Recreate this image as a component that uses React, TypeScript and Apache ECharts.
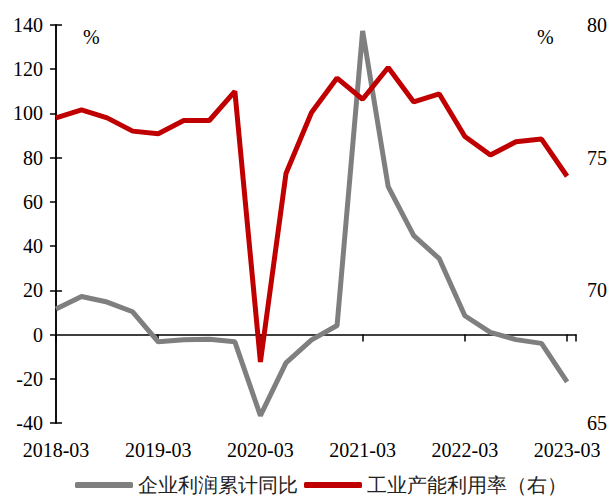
import React, { useEffect, useRef } from "react";
import * as echarts from "echarts";

const categories = [
  "2018-03", "2018-06", "2018-09", "2018-12",
  "2019-03", "2019-06", "2019-09", "2019-12",
  "2020-03", "2020-06", "2020-09", "2020-12",
  "2021-03", "2021-06", "2021-09", "2021-12",
  "2022-03", "2022-06", "2022-09", "2022-12",
  "2023-03",
];
const profitYoY = [
  11.6, 17.2, 14.7, 10.3,
  -3.3, -2.4, -2.1, -3.3,
  -36.7, -12.8, -2.4, 4.1,
  137.3, 66.9, 44.7, 34.3,
  8.5, 1.0, -2.3, -4.0,
  -21.4,
];
const capacityUtil = [
  76.5, 76.8, 76.5, 76.0,
  75.9, 76.4, 76.4, 77.5,
  67.3, 74.4, 76.7, 78.0,
  77.2, 78.4, 77.1, 77.4,
  75.8, 75.1, 75.6, 75.7,
  74.3,
];
const seriesNames = ["企业利润累计同比", "工业产能利用率（右）"];

const SERIF = "Times New Roman";

export default function App() {
  const ref = useRef<HTMLDivElement>(null);
  useEffect(() => {
    if (!ref.current) return;
    const chart = echarts.init(ref.current, null, { renderer: "svg" });
    const xMax = 20.35;
    const labelFmt = (v: number) => {
      const r = Math.round(v);
      if (Math.abs(v - r) > 1e-6) return "";
      return categories[r] ?? "";
    };
    chart.setOption({
      animation: false,
      backgroundColor: "#fff",
      textStyle: { fontFamily: SERIF },
      grid: { left: 56, right: 36, top: 25, bottom: 73, containLabel: false },
      legend: {
        left: 75,
        top: 475,
        padding: 0,
        itemWidth: 58,
        itemHeight: 6,
        itemGap: 6,
        icon: "roundRect",
        textStyle: { fontFamily: SERIF, fontSize: 20, color: "#222" },
        data: seriesNames,
      },
      graphic: [
        { type: "text", left: 83, top: 27, style: { text: "%", fontFamily: SERIF, fontSize: 20, fill: "#000" } },
        { type: "text", left: 537, top: 27, style: { text: "%", fontFamily: SERIF, fontSize: 20, fill: "#000" } },
      ],
      xAxis: [
        {
          type: "value",
          min: 0,
          max: xMax,
          interval: 4,
          position: "bottom",
          splitLine: { show: false },
          axisLine: { show: true, onZero: true, onZeroAxisIndex: 0, lineStyle: { color: "#000", width: 1.5 } },
          axisTick: { show: true, length: 7, inside: false, lineStyle: { color: "#000", width: 1.5 } },
          axisLabel: { show: false },
        },
        {
          type: "value",
          min: 0,
          max: xMax,
          interval: 4,
          position: "bottom",
          splitLine: { show: false },
          axisLine: { show: false, onZero: false },
          axisTick: { show: false },
          axisLabel: {
            show: true,
            margin: 17,
            formatter: labelFmt,
            fontFamily: SERIF,
            fontSize: 20,
            color: "#000",
            showMaxLabel: false,
          },
        },
      ],
      yAxis: [
        {
          type: "value",
          min: -40,
          max: 140,
          interval: 20,
          position: "left",
          splitLine: { show: false },
          axisLine: { show: true, lineStyle: { color: "#000", width: 1.5 } },
          axisTick: { show: true, length: 6, lineStyle: { color: "#000", width: 1.5 } },
          axisLabel: { margin: 13, fontFamily: SERIF, fontSize: 20, color: "#000" },
        },
        {
          type: "value",
          min: 65,
          max: 80,
          interval: 5,
          position: "right",
          splitLine: { show: false },
          axisLine: { show: true, lineStyle: { color: "#000", width: 1.5 } },
          axisTick: { show: true, length: 6, lineStyle: { color: "#000", width: 1.5 } },
          axisLabel: { margin: 11, fontFamily: SERIF, fontSize: 20, color: "#000" },
        },
      ],
      series: [
        {
          name: seriesNames[0],
          type: "line",
          xAxisIndex: 0,
          yAxisIndex: 0,
          symbol: "none",
          data: profitYoY.map((v, i) => [i, v]),
          lineStyle: { color: "#7f7f7f", width: 5 },
          itemStyle: { color: "#7f7f7f" },
        },
        {
          name: seriesNames[1],
          type: "line",
          xAxisIndex: 0,
          yAxisIndex: 1,
          symbol: "none",
          data: capacityUtil.map((v, i) => [i, v]),
          lineStyle: { color: "#c00000", width: 5 },
          itemStyle: { color: "#c00000" },
        },
      ],
    });
    return () => chart.dispose();
  }, []);
  return (
    <div
      ref={ref}
      style={{ position: "absolute", left: 0, top: 0, width: 612, height: 496, background: "#fff" }}
    />
  );
}
